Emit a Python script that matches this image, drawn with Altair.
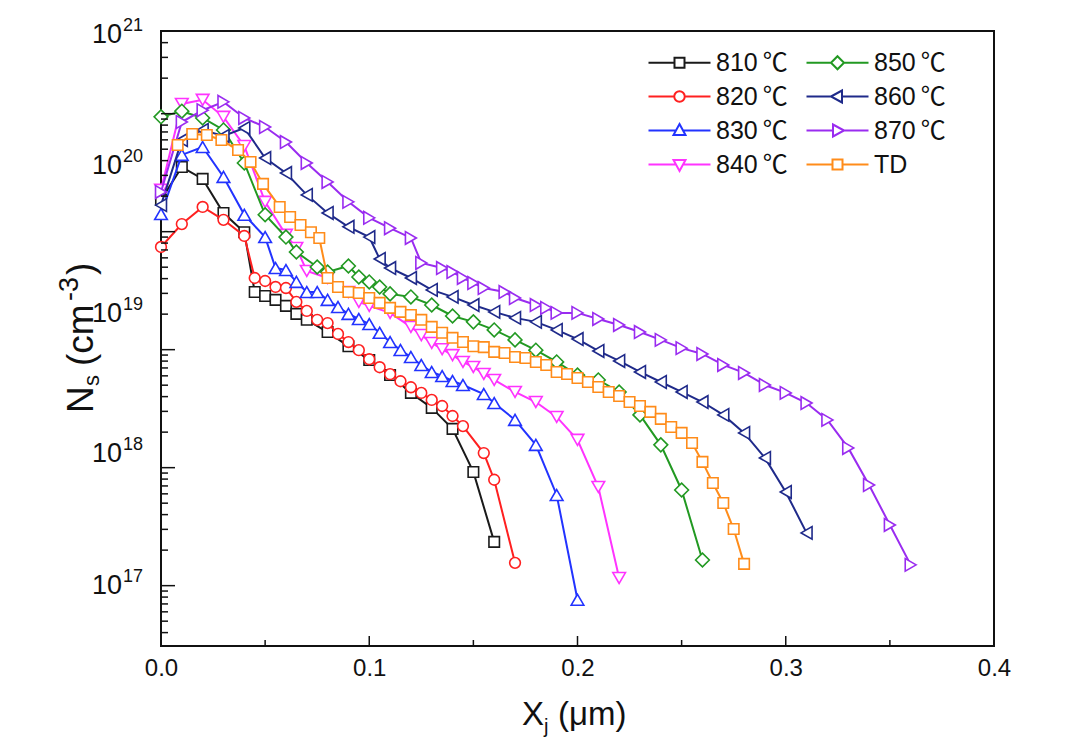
import altair as alt
import pandas as pd

# ---------------- data ----------------
series_names = ["810℃", "820℃", "830℃", "840℃", "850℃", "860℃", "870℃", "TD"]
series_colors = ["#1a1a1a", "#ff2020", "#2233ff", "#ff33ff", "#229922", "#1f2a8a", "#9a2cf0", "#ff8c1a"]
series_shapes = ["square", "circle", "triangle-up", "triangle-down", "diamond",
                 "triangle-left", "triangle-right", "square"]
series_sizes = [110, 115, 160, 160, 190, 160, 160, 110]

x_810 = [0.0, 0.01, 0.02, 0.03, 0.04, 0.045, 0.05, 0.055, 0.06, 0.065, 0.07, 0.08, 0.09,
         0.10, 0.11, 0.12, 0.13, 0.14, 0.15, 0.16]
n_810 = [1.86e20, 3.53e20, 2.80e20, 1.44e20, 9.9e19, 3.08e19, 2.85e19, 2.64e19, 2.35e19,
         2.01e19, 1.79e19, 1.41e19, 1.07e19, 8.18e18, 6.1e18, 4.3e18, 3.21e18, 2.13e18,
         9.2e17, 2.35e17]

x_820 = [0.0, 0.01, 0.02, 0.03, 0.04, 0.045, 0.05, 0.055, 0.06, 0.065, 0.07, 0.075, 0.08,
         0.085, 0.09, 0.095, 0.10, 0.105, 0.11, 0.115, 0.12, 0.125, 0.13, 0.135, 0.14,
         0.145, 0.155, 0.16, 0.17]
n_820 = [7.42e19, 1.16e20, 1.62e20, 1.26e20, 9.2e19, 4.05e19, 3.82e19, 3.40e19, 3.33e19,
         2.54e19, 2.13e19, 1.79e19, 1.68e19, 1.36e19, 1.16e19, 9.9e18, 8.3e18, 7.1e18,
         6.2e18, 5.4e18, 4.8e18, 4.3e18, 3.75e18, 3.33e18, 2.74e18, 2.25e18, 1.33e18,
         7.9e17, 1.56e17]

x_830 = [0.0, 0.01, 0.02, 0.03, 0.04, 0.05, 0.055, 0.06, 0.065, 0.07, 0.075, 0.08, 0.085,
         0.09, 0.095, 0.10, 0.105, 0.11, 0.115, 0.12, 0.125, 0.13, 0.135, 0.14, 0.145,
         0.155, 0.16, 0.17, 0.18, 0.19, 0.20]
n_830 = [1.41e20, 4.47e20, 5.22e20, 2.91e20, 1.39e20, 9.0e19, 4.92e19, 4.73e19, 3.75e19,
         3.08e19, 3.08e19, 2.64e19, 2.30e19, 2.01e19, 1.82e19, 1.65e19, 1.39e19, 1.16e19,
         9.94e18, 8.67e18, 7.42e18, 6.47e18, 5.98e18, 5.43e18, 5.02e18, 4.21e18, 3.53e18,
         2.54e18, 1.56e18, 5.87e17, 7.6e16]

x_840 = [0.0, 0.01, 0.02, 0.03, 0.04, 0.05, 0.06, 0.065, 0.07, 0.08, 0.09, 0.095, 0.10,
         0.11, 0.12, 0.125, 0.13, 0.135, 0.14, 0.145, 0.15, 0.155, 0.16, 0.17, 0.18, 0.19,
         0.20, 0.21, 0.22]
n_840 = [2.26e20, 1.21e21, 1.31e21, 9.4e20, 5.32e20, 1.79e20, 9.4e19, 7.28e19, 4.65e19,
         4.05e19, 3.08e19, 2.54e19, 2.35e19, 2.05e19, 1.56e19, 1.33e19, 1.14e19, 1.01e19,
         9.0e18, 7.87e18, 7.13e18, 6.22e18, 5.54e18, 4.38e18, 3.60e18, 2.69e18, 1.72e18,
         6.86e17, 1.16e17]

x_850 = [0.0, 0.01, 0.02, 0.03, 0.04, 0.05, 0.06, 0.065, 0.075, 0.08, 0.09, 0.095, 0.10,
         0.105, 0.11, 0.12, 0.13, 0.14, 0.15, 0.16, 0.17, 0.18, 0.19, 0.20, 0.21, 0.22,
         0.23, 0.24, 0.25, 0.26]
n_850 = [9.4e20, 1.05e21, 9.2e20, 7.28e20, 3.82e20, 1.39e20, 9.0e19, 6.73e19, 5.02e19,
         4.55e19, 5.12e19, 4.13e19, 3.75e19, 3.40e19, 2.97e19, 2.80e19, 2.39e19, 1.93e19,
         1.72e19, 1.47e19, 1.21e19, 9.9e18, 7.87e18, 6.1e18, 5.54e18, 4.38e18, 2.80e18,
         1.56e18, 6.47e17, 1.65e17]

x_860 = [0.0, 0.01, 0.02, 0.03, 0.04, 0.05, 0.06, 0.07, 0.08, 0.09, 0.10, 0.105, 0.11,
         0.12, 0.13, 0.14, 0.15, 0.16, 0.17, 0.18, 0.19, 0.20, 0.21, 0.22, 0.23, 0.24,
         0.25, 0.26, 0.27, 0.28, 0.29, 0.30, 0.31]
n_860 = [1.68e20, 5.98e20, 7.28e20, 6.47e20, 7.57e20, 4.21e20, 3.14e20, 2.05e20, 1.44e20,
         1.10e20, 9.0e19, 5.87e19, 4.92e19, 4.05e19, 3.21e19, 2.80e19, 2.39e19, 2.09e19,
         1.86e19, 1.72e19, 1.47e19, 1.23e19, 9.75e18, 8.02e18, 6.47e18, 5.32e18, 4.38e18,
         3.60e18, 2.80e18, 1.97e18, 1.21e18, 6.22e17, 2.80e17]

x_870 = [0.0, 0.01, 0.02, 0.03, 0.04, 0.05, 0.06, 0.07, 0.08, 0.09, 0.10, 0.11, 0.12,
         0.125, 0.135, 0.14, 0.145, 0.15, 0.155, 0.165, 0.17, 0.18, 0.185, 0.19, 0.20,
         0.21, 0.22, 0.23, 0.24, 0.25, 0.26, 0.27, 0.28, 0.29, 0.30, 0.31, 0.32, 0.33,
         0.34, 0.35, 0.36]
n_870 = [2.17e20, 8.5e20, 1.07e21, 1.26e21, 9.2e20, 7.71e20, 5.75e20, 3.82e20, 2.64e20,
         1.79e20, 1.31e20, 1.07e20, 8.85e19, 5.43e19, 4.92e19, 4.55e19, 4.05e19, 3.67e19,
         3.33e19, 3.08e19, 2.74e19, 2.39e19, 2.26e19, 2.05e19, 2.05e19, 1.82e19, 1.62e19,
         1.41e19, 1.21e19, 1.03e19, 9.2e18, 7.42e18, 6.35e18, 5.02e18, 4.30e18, 3.53e18,
         2.54e18, 1.47e18, 7.13e17, 3.27e17, 1.50e17]

x_td = [0.008, 0.015, 0.022, 0.029, 0.037, 0.043, 0.049, 0.057, 0.062, 0.067, 0.072, 0.076,
        0.08, 0.085, 0.09, 0.095, 0.10, 0.105, 0.11, 0.115, 0.12, 0.125, 0.13, 0.135, 0.14,
        0.145, 0.15, 0.155, 0.16, 0.165, 0.17, 0.175, 0.18, 0.185, 0.19, 0.195, 0.20,
        0.205, 0.21, 0.215, 0.22, 0.225, 0.23, 0.235, 0.24, 0.245, 0.25, 0.255, 0.26,
        0.265, 0.27, 0.275, 0.28]
n_td = [5.43e20, 6.73e20, 6.6e20, 5.98e20, 4.92e20, 3.90e20, 2.54e20, 1.62e20, 1.33e20,
        1.14e20, 9.9e19, 8.85e19,
        4.05e19, 3.40e19, 3.08e19, 3.02e19, 2.74e19, 2.49e19, 2.26e19, 2.09e19, 1.97e19,
        1.79e19, 1.56e19, 1.39e19, 1.26e19, 1.16e19, 1.07e19, 1.05e19, 9.57e18, 9.38e18,
        8.67e18, 8.5e18, 7.87e18, 7.42e18, 6.47e18, 6.22e18, 5.75e18, 5.32e18, 4.83e18,
        4.38e18, 4.05e18, 3.60e18, 3.33e18, 2.97e18, 2.59e18, 2.21e18, 1.97e18, 1.62e18,
        1.12e18, 7.42e17, 5.02e17, 3.02e17, 1.53e17]

x_values = [x_810, x_820, x_830, x_840, x_850, x_860, x_870, x_td]
n_values = [n_810, n_820, n_830, n_840, n_850, n_860, n_870, n_td]

# axis ticks / labels
y_domain = [3.08e16, 5.02e21]
y_major = [1e17, 1e18, 1e19, 1e20, 1e21]
y_minor = [k * 10.0 ** e for e in range(16, 22) for k in range(2, 10)
           if y_domain[0] <= k * 10.0 ** e <= y_domain[1]]
y_label_exp = ["21", "20", "19", "18", "17"]
y_label_at = [4.65e21, 3.61e20, 2.01e19, 1.31e18, 1.0e17]
x_major = [0.1, 0.2, 0.3]
x_minor = [0.05, 0.15, 0.25, 0.35]
x_labels = [0.0, 0.1, 0.2, 0.3, 0.4]

legend_paths = {
    "square": "M-6.2,0H-1M1,0H6.2M-1,-1H1V1H-1Z",
    "circle": "M-6.2,0H-1.05M1.05,0H6.2M-1.05,0A1.05,1.05,0,1,1,1.05,0A1.05,1.05,0,1,1,-1.05,0Z",
    "triangle-up": "M-6.2,0H-0.71M0.71,0H6.2M0,-1.3L1.2,0.9L-1.2,0.9Z",
    "triangle-down": "M-6.2,0H-0.71M0.71,0H6.2M0,1.3L1.2,-0.9L-1.2,-0.9Z",
    "diamond": "M-6.2,0H-1.3M1.3,0H6.2M0,-1.3L1.3,0L0,1.3L-1.3,0Z",
    "triangle-left": "M-6.2,0H-1.3M0.9,0H6.2M-1.3,0L0.9,-1.2L0.9,1.2Z",
    "triangle-right": "M-6.2,0H-0.9M1.3,0H6.2M1.3,0L-0.9,-1.2L-0.9,1.2Z",
}

# ---------------- chart ----------------
W, H = 833, 615
FONT = "Liberation Sans, Arial, Noto Sans CJK SC"
NARROW = "Liberation Sans Narrow, Arial Narrow, Liberation Sans"
INK = "#111111"

rows = []
for name, xs, ns in zip(series_names, x_values, n_values):
    for xv, nv in zip(xs, ns):
        rows.append({"series": name, "x": xv, "n": nv})
df = pd.DataFrame(rows)

xscale = alt.Scale(domain=[0, 0.4], nice=False, zero=False)
yscale = alt.Scale(type="log", domain=y_domain, nice=False)
xaxis = alt.Axis(values=x_labels, format=".1f", ticks=False, domain=False, grid=False,
                 title=None, labelFont=NARROW, labelFontSize=24, labelColor=INK,
                 labelPadding=10, labelFlush=False)

layers = []
for name, col, shp, sz in zip(series_names, series_colors, series_shapes, series_sizes):
    sub = alt.Chart(df).transform_filter(alt.datum.series == name)
    layers.append(sub.mark_line(color=col, strokeWidth=2).encode(
        x=alt.X("x:Q", scale=xscale, axis=xaxis),
        y=alt.Y("n:Q", scale=yscale, axis=None),
    ))
    layers.append(sub.mark_point(shape=shp, size=sz, stroke=col, fill="white", filled=False,
                                 opacity=1, strokeWidth=1.6).encode(
        x=alt.X("x:Q", scale=xscale, axis=xaxis),
        y=alt.Y("n:Q", scale=yscale, axis=None),
    ))

# legend (built-in, custom symbols with a line through the marker); Vega fills columns first
legend_cfg = alt.Legend(
    title=None, orient="none", legendX=480, legendY=19, columns=2,
    symbolSize=100, symbolStrokeWidth=2, symbolOffset=26,
    labelOffset=24, labelFont=FONT, labelFontSize=25, labelColor=INK, labelLimit=0,
    rowPadding=8, columnPadding=11, padding=0,
    labelExpr="replace(datum.label, '℃', '\u2009℃')",
)
leg_shapes = [legend_paths[s] for s in series_shapes]
legend_layer = alt.Chart(df).transform_filter("false").mark_point(
    filled=False, opacity=1, strokeWidth=2
).encode(
    x=alt.X("x:Q", scale=xscale, axis=xaxis),
    y=alt.Y("n:Q", scale=yscale, axis=None),
    color=alt.Color("series:N", scale=alt.Scale(domain=series_names, range=series_colors),
                    legend=legend_cfg),
    shape=alt.Shape("series:N", scale=alt.Scale(domain=series_names, range=leg_shapes),
                    legend=legend_cfg),
)
layers.append(legend_layer)

# inward ticks
ymaj = alt.Chart(pd.DataFrame({"v": y_major})).mark_rule(color=INK, strokeWidth=1.5).encode(
    y=alt.Y("v:Q", scale=yscale, axis=None), x=alt.value(0), x2=alt.value(14))
ymin = alt.Chart(pd.DataFrame({"v": y_minor})).mark_rule(color=INK, strokeWidth=1.5).encode(
    y=alt.Y("v:Q", scale=yscale, axis=None), x=alt.value(0), x2=alt.value(7))
xmaj = alt.Chart(pd.DataFrame({"v": x_major})).mark_rule(color=INK, strokeWidth=1.5).encode(
    x=alt.X("v:Q", scale=xscale, axis=xaxis), y=alt.value(H), y2=alt.value(H - 10))
xmin = alt.Chart(pd.DataFrame({"v": x_minor})).mark_rule(color=INK, strokeWidth=1.5).encode(
    x=alt.X("v:Q", scale=xscale, axis=xaxis), y=alt.value(H), y2=alt.value(H - 6))
layers += [ymaj, ymin, xmaj, xmin]

# y tick labels 10^n
ylab_df = pd.DataFrame({"at": y_label_at, "exp": y_label_exp, "base": ["10"] * len(y_label_at)})
ylab_base = alt.Chart(ylab_df).mark_text(align="right", baseline="middle", font=FONT,
                                         fontSize=27, color=INK).encode(
    y=alt.Y("at:Q", scale=yscale, axis=None), x=alt.value(-39), text="base:N")
ylab_exp = alt.Chart(ylab_df).mark_text(align="left", baseline="middle", font=FONT,
                                        fontSize=18, dy=-9, color=INK).encode(
    y=alt.Y("at:Q", scale=yscale, axis=None), x=alt.value(-38), text="exp:N")
layers += [ylab_base, ylab_exp]

# axis titles built from pieces (sub/superscripts)
one = pd.DataFrame({"a": [0]})


def piece(txt, px, py, size, angle=0):
    return alt.Chart(one).mark_text(align="left", baseline="alphabetic", font=FONT,
                                    fontSize=size, angle=angle, color=INK).encode(
        x=alt.value(px - 161), y=alt.value(py - 31), text=alt.value(txt))


# x title: X_j (µm)
layers += [
    piece("X", 522, 725, 33),
    piece("j", 544, 733, 20),
    piece("(μm)", 558, 725, 33),
]
# y title: N_s (cm^-3), rotated to read upwards
layers += [
    piece("N", 93, 413, 37, 270),
    piece("s", 99, 386, 22, 270),
    piece("(cm", 93, 366, 37, 270),
    piece("-3", 78, 301, 27, 270),
    piece(")", 93, 275, 37, 270),
]

chart = alt.layer(*layers).properties(
    width=W, height=H,
    autosize=alt.AutoSizeParams(type="none"),
    padding={"left": 161, "top": 31, "right": 86, "bottom": 105},
    background="white",
).configure_view(stroke=INK, strokeWidth=2)

chart.save("out.html", embed_options={"renderer": "svg", "actions": False})
